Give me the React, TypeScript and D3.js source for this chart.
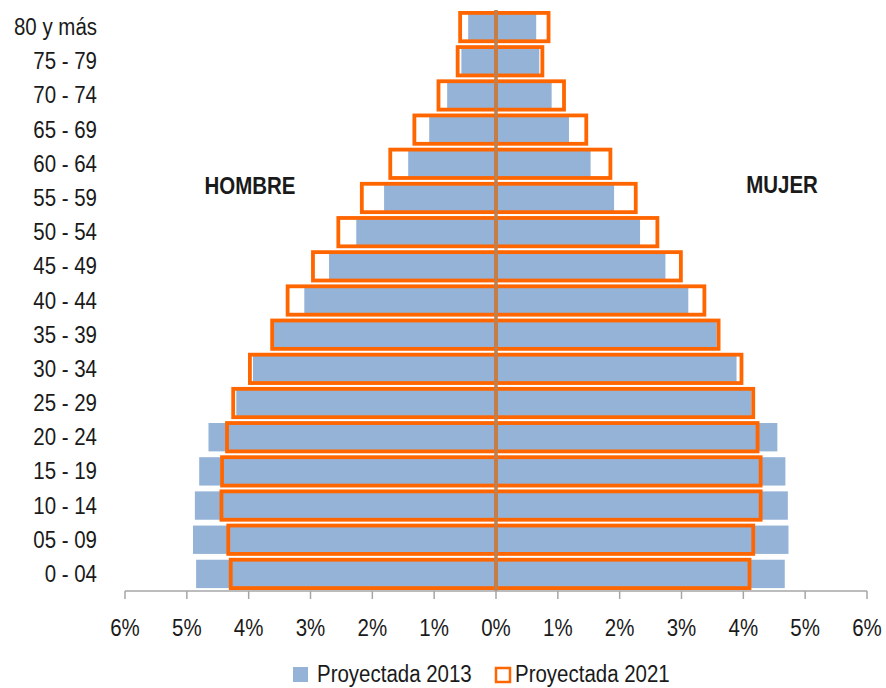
import React from "react";
import * as d3 from "d3";

// Age groups, youngest first
const ageGroups = [
  "0 - 04", "05 - 09", "10 - 14", "15 - 19", "20 - 24", "25 - 29", "30 - 34", "35 - 39",
  "40 - 44", "45 - 49", "50 - 54", "55 - 59", "60 - 64", "65 - 69", "70 - 74", "75 - 79", "80 y más",
];

// Share of total population (%) by age group
const hombre2013 = [4.85, 4.9, 4.87, 4.8, 4.65, 4.2, 3.93, 3.59, 3.1, 2.7, 2.26, 1.81, 1.42, 1.08, 0.79, 0.56, 0.45];
const hombre2021 = [4.29, 4.33, 4.44, 4.43, 4.35, 4.25, 3.98, 3.62, 3.37, 2.96, 2.55, 2.17, 1.71, 1.32, 0.93, 0.62, 0.58];
const mujer2013 = [4.67, 4.73, 4.72, 4.68, 4.55, 4.13, 3.89, 3.57, 3.11, 2.74, 2.33, 1.91, 1.53, 1.18, 0.9, 0.7, 0.65];
const mujer2021 = [4.1, 4.16, 4.28, 4.28, 4.23, 4.16, 3.97, 3.6, 3.37, 2.99, 2.61, 2.26, 1.85, 1.46, 1.1, 0.75, 0.85];

const xTicks = [-6, -5, -4, -3, -2, -1, 0, 1, 2, 3, 4, 5, 6];
const seriesNames = ["Proyectada 2013", "Proyectada 2021"];
const sideLabels = ["HOMBRE", "MUJER"];

const W = 886;
const H = 688;
const BLUE = "#95B3D7";
const ORANGE = "#FF6600";
const ZERO = "#BD8052";
const AXIS = "#A6A6A6";
const INK = "#1A1A1A";
const FONT = "'Liberation Sans', Arial, sans-serif";
const SX = 0.89;

const T = ({ x, y, children, anchor = "start", bold = false, size = 23 }: any) => (
  <text
    transform={`translate(${x},${y}) scale(${SX},1)`}
    textAnchor={anchor}
    fontFamily={FONT}
    fontSize={size}
    fontWeight={bold ? "bold" : "normal"}
    fill={INK}
  >
    {children}
  </text>
);

export default function App() {
  const x = d3.scaleLinear().domain([-6, 6]).range([125, 867]);
  const y = d3
    .scaleBand<string>()
    .domain([...ageGroups].reverse())
    .range([10, 591])
    .paddingInner(0.17)
    .paddingOuter(0.085);
  const bh = y.bandwidth();
  const axisY = 591;
  const x0 = x(0);

  return (
    <svg width={W} height={H} style={{ position: "absolute", left: 0, top: 0, background: "#fff" }}>
      {/* 2013 filled bars */}
      {ageGroups.map((g, i) => (
        <g key={"b" + g}>
          <rect x={x(-hombre2013[i])} y={y(g)} width={x0 - x(-hombre2013[i])} height={bh} fill={BLUE} />
          <rect x={x0} y={y(g)} width={x(mujer2013[i]) - x0} height={bh} fill={BLUE} />
        </g>
      ))}
      {/* 2021 outlined bars */}
      {ageGroups.map((g, i) => (
        <g key={"o" + g} fill="none" stroke={ORANGE} strokeWidth={3.8}>
          <rect x={x(-hombre2021[i])} y={y(g)} width={x0 - x(-hombre2021[i])} height={bh} />
          <rect x={x0} y={y(g)} width={x(mujer2021[i]) - x0} height={bh} />
        </g>
      ))}
      {/* zero line */}
      <line x1={x0} x2={x0} y1={10} y2={axisY} stroke={ZERO} strokeWidth={3.5} />
      {/* x axis */}
      <line x1={x(-6)} x2={x(6)} y1={axisY} y2={axisY} stroke={AXIS} strokeWidth={1.5} />
      {xTicks.map((t) => (
        <g key={"t" + t}>
          <line x1={x(t)} x2={x(t)} y1={axisY} y2={axisY + 8} stroke={AXIS} strokeWidth={1.5} />
          <T x={x(t)} y={636} anchor="middle">{`${Math.abs(t)}%`}</T>
        </g>
      ))}
      {/* age labels */}
      {ageGroups.map((g) => (
        <T key={"l" + g} x={97} y={(y(g) as number) + bh / 2 + 8} anchor="end">
          {g}
        </T>
      ))}
      {/* side labels */}
      <T x={250} y={194} anchor="middle" bold>{sideLabels[0]}</T>
      <T x={782} y={193} anchor="middle" bold>{sideLabels[1]}</T>
      {/* legend */}
      <rect x={293} y={667} width={15} height={15} fill={BLUE} />
      <T x={317} y={682}>{seriesNames[0]}</T>
      <rect x={496} y={668} width={14} height={14} fill="none" stroke={ORANGE} strokeWidth={2.5} />
      <T x={515} y={682}>{seriesNames[1]}</T>
    </svg>
  );
}
